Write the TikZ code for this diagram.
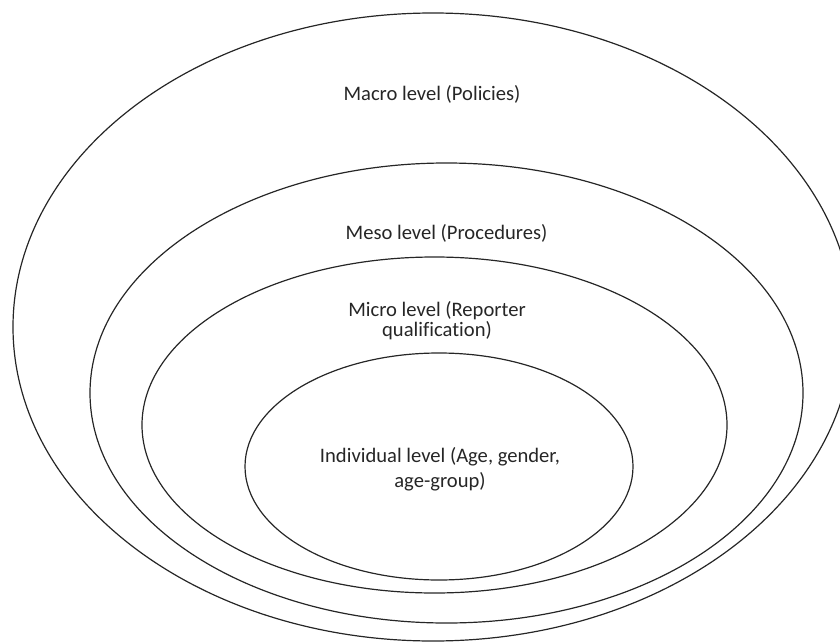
\documentclass[tikz,border=0pt]{standalone}
\usepackage{fontspec}
\setmainfont{Carlito}[Ligatures=NoCommon]
\begin{document}
\begin{tikzpicture}[x=1pt,y=-1pt,
  ring/.style={draw=black!85,line width=1.2pt},
  lbl/.style={align=center,font=\fontsize{20.6}{20}\selectfont,text=black!85,inner sep=0pt}]
\useasboundingbox (0,0) rectangle (840,642);
\draw[ring] (433,327) ellipse [x radius=420pt, y radius=314pt];
\draw[ring] (446.5,393) ellipse [x radius=356.5pt, y radius=230pt];
\draw[ring] (434.5,425) ellipse [x radius=292.5pt, y radius=168pt];
\draw[ring] (439,466.5) ellipse [x radius=194pt, y radius=113.5pt];
\node[lbl] (macro) at (432,94) {Macro level (Policies)};
\node[lbl] (meso) at (446.5,233) {Meso level (Procedures)};
\node[lbl] (micro) at (437,321) {Micro level (Reporter\\qualification)};
\node[lbl] (indiv) at (440,469) {Individual level (Age, gender,\\[5pt]age-group)};
\end{tikzpicture}
\end{document}
